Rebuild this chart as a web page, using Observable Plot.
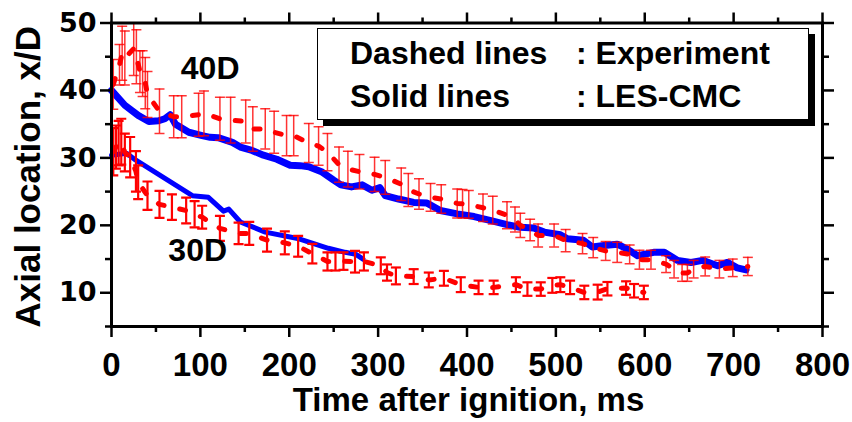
<!DOCTYPE html>
<html><head><meta charset="utf-8">
<script src="https://cdn.jsdelivr.net/npm/d3@7"></script>
<script src="https://cdn.jsdelivr.net/npm/@observablehq/plot@0.6"></script>
<style>
body{margin:0;background:#fff;}
#wrap{position:relative;width:852px;height:422px;font-family:"Liberation Sans",Arial,sans-serif;}
#legend{position:absolute;left:317px;top:28px;width:490px;height:90px;border:1.5px solid #000;background:#fff;box-shadow:6px 6px 0 #000;}
#legend span{position:absolute;font-weight:bold;font-size:32px;line-height:1;white-space:nowrap;color:#000;}
</style></head><body><div id="wrap"></div>
<script>
// ---- Data ----
const xTicks = [0,100,200,300,400,500,600,700,800];
const xMinor = [50,150,250,350,450,550,650,750];
const yTicks = [10,20,30,40,50];
const yMinor = [5,15,25,35,45];
const xTitle = "Time after ignition, ms";
const yTitle = "Axial location, x/D";
const legendNames = ["Dashed lines", "Solid lines"];
const legendValues = [": Experiment", ": LES-CMC"];
const annoLabels = ["40D", "30D"];
const annoT = [111, 97];
const annoV = [43.25, 16.25];

// Experiment, 40D (time ms, x/D, error half-width)
const exp40T = [2,9,12,15,25,28,32,35,38,40.5,54,70,79,98,104,122,134,151,159,173,183,197,205,222,233,243,256,266,279,296,308,326,334,346,359,371,389,395,402,418,429,445,454,460,471,480,498,511,530,542,556,569,583,594,607,624,633,642,648,655,668,684,699,716];
const exp40V = [40.9,43.8,45.5,44.8,46.2,45.0,42.8,42.5,41.1,39.4,36.9,36.1,36.1,36.4,36.6,35.8,35.6,35.4,34.3,34.3,33.8,33.3,33.3,32.2,31.75,30.85,29.0,28.35,27.95,27.55,27.1,26.1,25.25,24.65,24.15,23.9,23.25,23.2,23.1,22.6,22.25,21.5,20.85,20.0,19.3,18.5,18.5,17.75,17.3,16.7,16.2,16.0,15.7,14.9,14.9,14.25,13.5,12.95,12.95,13.5,13.9,13.5,13.7,13.9];
const exp40E = [3.7,3.0,4.0,4.0,4.0,4.0,3.1,3.4,3.8,3.4,3.3,3.1,3.1,3.2,3.3,3.2,3.4,3.2,3.3,3.0,3.1,3.0,3.0,2.9,2.85,2.75,2.6,2.65,2.55,2.55,2.5,2.4,2.45,2.25,2.05,2.1,2.15,2.1,2.05,2.05,2.05,2.0,1.85,1.8,1.6,1.7,1.7,1.65,1.5,1.5,1.4,1.5,1.4,1.4,1.4,1.25,1.3,1.25,1.25,1.3,1.4,1.3,1.3,1.35];

// Experiment, 30D
const exp30T = [2,5,8,11,15,21,27.5,30,40.5,54,68,84,93.5,102,122,143,155,175,195,210,226,243,252,261,274,284,303,310,320,340,357,374,393,413,430,455,468,483,496,505,516,532,547,558,579,588,599];
const exp30V = [30.9,31.6,32.2,32.4,30.8,30.1,28.0,26.4,24.4,23.1,22.7,22.2,21.65,21.2,19.55,18.8,18.8,17.8,17.4,16.9,15.8,14.65,14.65,14.7,14.6,14.65,14.0,13.0,12.5,12.4,11.9,12.15,11.2,10.8,10.8,11.2,10.55,10.55,11.1,11.2,10.8,10.05,10.1,10.6,10.7,10.3,10.05];
const exp30E = [3.5,3.2,3.3,3.4,2.8,3.0,3.0,2.5,2.1,2.0,1.9,1.9,1.95,1.7,1.85,1.6,1.7,1.7,1.7,1.55,1.45,1.35,1.35,1.3,1.6,1.35,1.25,1.2,1.25,1.1,1.1,1.1,1.1,1.0,1.0,1.1,1.0,1.0,1.1,1.1,1.0,1.0,1.1,1.0,1.0,1.0,1.0];

// LES-CMC, 40D
const les40T = [0,15,30,42,53,60,66,72,87,102,111,120,136,145,158,171,186,201,212,222,237,250,258,270,282,293,302,308,323,340,355,370,389,408,427,445,460,475,487,505,513,531,541,554,569,580,592,610,622,637,652,665,682,693,704,714];
const les40V = [40.0,37.8,36.3,35.4,35.5,35.8,36.4,35.0,33.8,33.3,33.05,33.0,32.3,31.6,31.1,30.4,29.8,28.9,28.85,28.7,27.9,26.7,26.0,25.7,26.0,25.2,25.6,24.4,23.9,23.4,23.3,22.2,21.7,21.3,20.7,20.1,19.7,19.6,19.0,18.6,18.0,17.8,16.8,17.0,17.2,16.5,15.5,16.0,16.0,14.8,14.5,14.8,14.0,14.5,13.7,13.4];

// LES-CMC, 30D
const les30T = [0,17,27,91,109,126,132,145,173,211,244,263,275,283];
const les30V = [30.4,30.7,29.7,24.4,24.15,22.1,22.4,20.5,19.0,18.0,16.6,16.0,15.7,15.0];

// ---- Build tables ----
const zipE = (T, V, E) => T.map((t, i) => ({t, v: V[i], e: E[i]}));
const zip = (T, V) => T.map((t, i) => ({t, v: V[i]}));
const exp40 = zipE(exp40T, exp40V, exp40E);
const exp30 = zipE(exp30T, exp30V, exp30E);
const les40 = zip(les40T, les40V);
const les30 = zip(les30T, les30V);
const annos = annoLabels.map((label, i) => ({label, t: annoT[i], v: annoV[i]}));

const FONT = '"Liberation Sans", Arial, sans-serif';
const RED = "#ff0000", BLUE = "#0000ff";
const cap = {draw(ctx, size) { const w = Math.sqrt(size / Math.PI); ctx.moveTo(-w, 0); ctx.lineTo(w, 0); }};
const noLabel = () => "";

function errMarks(data, sw, op) {
  return [
    Plot.ruleX(data, {x: "t", y1: d => d.v - d.e, y2: d => d.v + d.e, stroke: RED, strokeWidth: sw, strokeOpacity: op, clip: true}),
    Plot.dot(data, {x: "t", y: d => d.v + d.e, symbol: cap, r: 5, stroke: RED, fill: "none", strokeWidth: sw, strokeOpacity: op, clip: true}),
    Plot.dot(data, {x: "t", y: d => d.v - d.e, symbol: cap, r: 5, stroke: RED, fill: "none", strokeWidth: sw, strokeOpacity: op, clip: true})
  ];
}

const tickStyle = {strokeWidth: 2.5, stroke: "black", label: null};

const chart = Plot.plot({
  width: 852, height: 422,
  marginTop: 22.5, marginRight: 30, marginBottom: 96, marginLeft: 111,
  style: {background: "white", fontFamily: FONT, overflow: "visible", color: "black"},
  x: {domain: [0, 800]},
  y: {domain: [5, 50]},
  marks: [
    Plot.line(les40, {x: "t", y: "v", stroke: BLUE, strokeWidth: 7, strokeLinejoin: "round"}),
    Plot.line(les30, {x: "t", y: "v", stroke: BLUE, strokeWidth: 5}),
    ...errMarks(exp40, 1.5, 0.8),
    ...errMarks(exp30, 2.2, 1),
    Plot.line(exp40, {x: "t", y: "v", stroke: RED, strokeWidth: 5, strokeDasharray: "6,16"}),
    Plot.line(exp30, {x: "t", y: "v", stroke: RED, strokeWidth: 5, strokeDasharray: "6,16"}),
    Plot.text(annos, {x: "t", y: "v", text: "label", fontSize: 32, fontWeight: "bold", fontFamily: FONT, fill: "black"}),
    Plot.axisX({ticks: xTicks, tickSize: 11, tickPadding: 15, fontSize: 33, fontWeight: "bold", fontFamily: FONT, ...tickStyle}),
    Plot.axisX({ticks: xMinor, tickSize: 6, tickFormat: noLabel, ...tickStyle}),
    Plot.axisX({anchor: "top", ticks: xTicks, tickSize: 11, tickFormat: noLabel, ...tickStyle}),
    Plot.axisX({anchor: "top", ticks: xMinor, tickSize: 6, tickFormat: noLabel, ...tickStyle}),
    Plot.axisY({ticks: yTicks, tickSize: 11, tickPadding: 4, fontSize: 27, fontWeight: "bold", fontFamily: '"DejaVu Sans", sans-serif', ...tickStyle}),
    Plot.axisY({ticks: yMinor, tickSize: 6, tickFormat: noLabel, ...tickStyle}),
    Plot.axisY({anchor: "right", ticks: yTicks, tickSize: 11, tickFormat: noLabel, ...tickStyle}),
    Plot.axisY({anchor: "right", ticks: yMinor, tickSize: 6, tickFormat: noLabel, ...tickStyle}),
    Plot.frame({stroke: "black", strokeWidth: 3}),
    Plot.text([xTitle], {text: d => d, frameAnchor: "bottom", lineAnchor: "bottom", dy: 84, dx: 1.5, fontSize: 33, fontWeight: "bold", fontFamily: FONT, fill: "black"}),
    Plot.text([yTitle], {text: d => d, frameAnchor: "left", textAnchor: "middle", lineAnchor: "middle", rotate: -90, dx: -83, dy: 2, fontSize: 35, fontWeight: "bold", fontFamily: FONT, fill: "black"})
  ]
});

const wrap = document.getElementById("wrap");
wrap.appendChild(chart);
const legend = document.createElement("div");
legend.id = "legend";
const rowTop = [8, 51];
legendNames.forEach((name, i) => {
  const a = document.createElement("span");
  a.textContent = name; a.style.left = "32px"; a.style.top = rowTop[i] + "px";
  const b = document.createElement("span");
  b.textContent = legendValues[i]; b.style.left = "258px"; b.style.top = rowTop[i] + "px";
  legend.appendChild(a); legend.appendChild(b);
});
wrap.appendChild(legend);
</script>
</body></html>
